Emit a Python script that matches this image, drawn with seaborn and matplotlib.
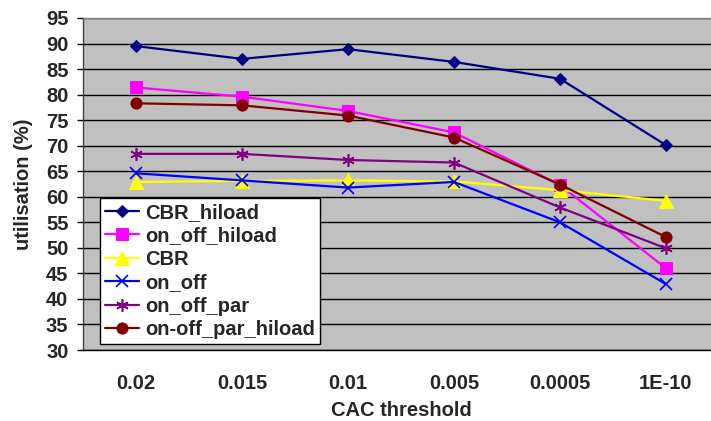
import matplotlib
matplotlib.use("Agg")
import matplotlib.pyplot as plt
import seaborn as sns
import pandas as pd

thresholds = ["0.02", "0.015", "0.01", "0.005", "0.0005", "1E-10"]
series_names = ["CBR_hiload", "on_off_hiload", "CBR", "on_off", "on_off_par", "on-off_par_hiload"]
cbr_hiload = [89.5, 87.0, 88.9, 86.4, 83.1, 70.1]
on_off_hiload = [81.4, 79.6, 76.8, 72.6, 62.3, 46.0]
cbr = [62.9, 63.1, 63.2, 63.0, 61.3, 59.2]
on_off = [64.6, 63.2, 61.8, 62.9, 55.0, 42.9]
on_off_par = [68.4, 68.4, 67.2, 66.7, 57.9, 49.9]
on_off_par_hiload = [78.3, 77.9, 75.9, 71.6, 62.4, 52.1]

values = [cbr_hiload, on_off_hiload, cbr, on_off, on_off_par, on_off_par_hiload]
colors = ["#000080", "#FF00FF", "#FFFF00", "#0000FF", "#800080", "#800000"]
markers = ["D", "s", "^", "x", (6, 2, 0), "o"]
msizes = [6, 8, 10, 8, 9, 8]

sns.set_style("white")
FAM = "Liberation Sans"
plt.rcParams['font.family'] = FAM
plt.rcParams['font.weight'] = 'bold'
plt.rcParams['axes.labelweight'] = 'bold'
FS = 14.5

fig = plt.figure(figsize=(7.11, 4.21), dpi=100)
W, H = 711, 421
ax = fig.add_axes([83 / W, 1 - 350 / H, 636 / W, 332 / H])
ax.set_facecolor("#C0C0C0")

pos = list(range(len(thresholds)))
for name, vals, c, m, ms in zip(series_names, values, colors, markers, msizes):
    df = pd.DataFrame({"x": pos, "y": vals})
    kw = dict(marker=m, markersize=ms, color=c, linewidth=1.6, label=name)
    if m in ("x",) or isinstance(m, tuple):
        kw.update(markeredgecolor=c, markeredgewidth=1.2)
    else:
        kw.update(markeredgecolor=c, markerfacecolor=c)
    sns.lineplot(data=df, x="x", y="y", ax=ax, **kw)

ax.set_xlim(-0.5, 5.5)
ax.set_ylim(30, 95)
ax.set_yticks(range(30, 96, 5))
ax.set_xticks(pos)
ax.set_xticks([p - 0.5 for p in pos], minor=True)
ax.set_xticklabels(thresholds, fontsize=FS, fontweight="bold", family=FAM)
ax.set_yticklabels([str(v) for v in range(30, 96, 5)], fontsize=FS, fontweight="bold", family=FAM)
ax.tick_params(axis="x", which="major", length=0, pad=17)
ax.tick_params(axis="x", which="minor", length=4.5, width=1, color="black", direction="out")
ax.tick_params(axis="y", length=4.5, width=1, color="black", direction="out", pad=6, left=True)
ax.grid(axis="y", color="black", linewidth=1)
ax.set_axisbelow(True)

ax.spines["left"].set_color("#404040")
ax.spines["bottom"].set_color("black")
ax.spines["top"].set_color("#808080")
ax.spines["right"].set_visible(False)
for s in ax.spines.values():
    s.set_linewidth(1)

ax.set_xlabel("CAC threshold", fontsize=FS, fontweight="bold", family=FAM, labelpad=6)
ax.set_ylabel("utilisation (%)", fontsize=FS, fontweight="bold", family=FAM, labelpad=9)

leg = ax.legend(loc="upper left", bbox_to_anchor=(100 / W, 1 - 198 / H),
                bbox_transform=fig.transFigure, borderaxespad=0,
                frameon=True, fancybox=False, handlelength=1.7,
                handletextpad=0.3, labelspacing=0.22, borderpad=0.25,
                prop={"family": FAM, "weight": "bold", "size": FS})
leg.get_frame().set_edgecolor("black")
leg.get_frame().set_facecolor("white")
leg.get_frame().set_linewidth(1)
leg.get_frame().set_alpha(1)

fig.savefig("out.png", dpi=100)
